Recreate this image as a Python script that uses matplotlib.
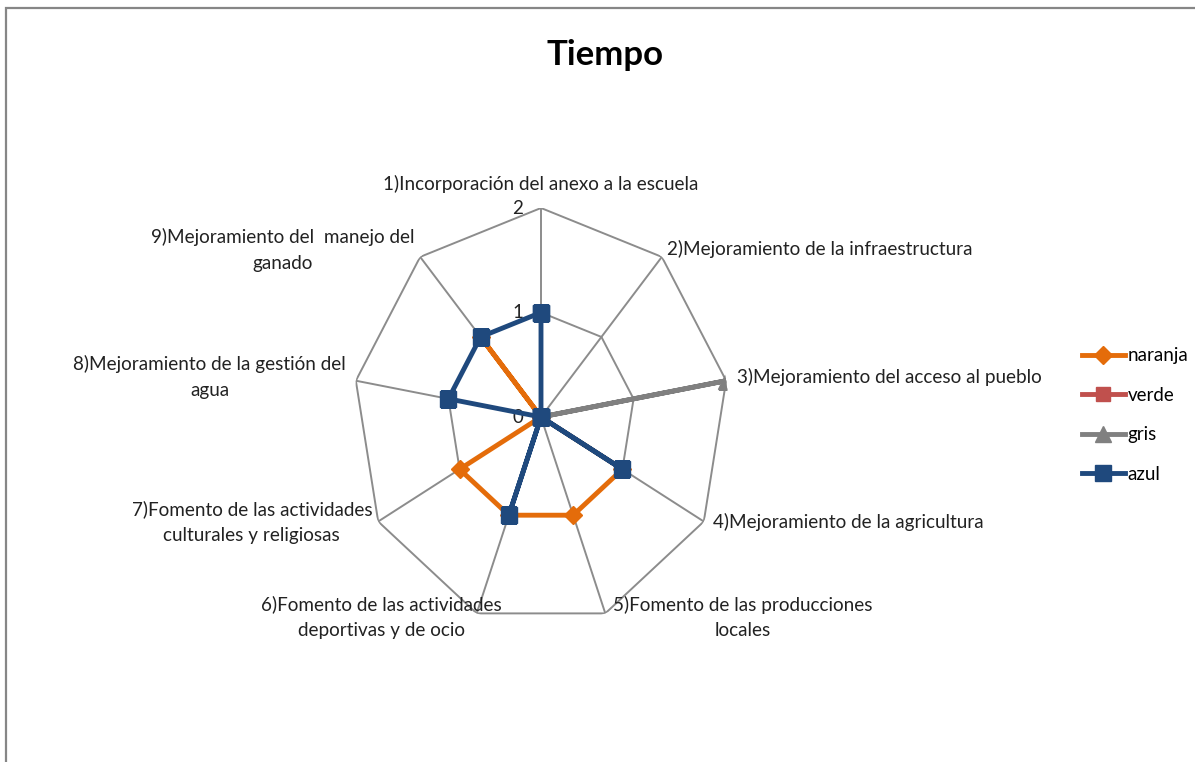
import numpy as np
import matplotlib
matplotlib.use("Agg")
import matplotlib.pyplot as plt
from matplotlib.patches import Rectangle

plt.rcParams['font.family'] = ['Lato', 'DejaVu Sans']

categories = ['1)Incorporación del anexo a la escuela',
              '2)Mejoramiento de la infraestructura',
              '3)Mejoramiento del acceso al pueblo',
              '4)Mejoramiento de la agricultura',
              '5)Fomento de las producciones\nlocales',
              '6)Fomento de las actividades\ndeportivas y de ocio',
              '7)Fomento de las actividades\nculturales y religiosas',
              '8)Mejoramiento de la gestión del\nagua',
              '9)Mejoramiento del  manejo del\nganado']

naranja = [0, 0, 0, 1, 1, 1, 1, 0, 1]
verde = [0, 0, 0, 0, 0, 0, 0, 0, 0]
gris = [0, 0, 2, 0, 0, 0, 0, 0, 0]
azul = [1, 0, 0, 1, 0, 1, 0, 1, 1]
r_ticks = [0, 1, 2]

n = len(categories)
angles = np.linspace(0, 2 * np.pi, n, endpoint=False)
ang_c = np.append(angles, angles[0])

fig = plt.figure(figsize=(11.95, 7.62), dpi=100)
W, H = 1195, 762

# plot area (Excel radar is slightly squashed horizontally)
cx, cy, rx, ry = 541, 417, 188, 209
ax = fig.add_axes([(cx - rx) / W, (H - cy - ry) / H, 2 * rx / W, 2 * ry / H],
                  projection='polar')
ax.set_aspect('auto')
ax.set_theta_offset(np.pi / 2)
ax.set_theta_direction(-1)
ax.set_ylim(0, 2)
ax.grid(False)
ax.spines['polar'].set_visible(False)
ax.set_xticks([])
ax.set_yticks([])
ax.patch.set_alpha(0)

grid_color = '#8c8c8c'
for r in r_ticks[1:]:
    ax.plot(ang_c, [r] * (n + 1), color=grid_color, lw=1.4, zorder=1)
for a in angles:
    ax.plot([a, a], [0, r_ticks[-1]], color=grid_color, lw=1.4, zorder=1)

for r in r_ticks:
    ax.annotate(str(r), (0, r), xytext=(-18, 0), textcoords='offset pixels',
                ha='right', va='center', fontsize=13.5, color='#222222')

series = [('naranja', naranja, '#E46C0A', 'D', 9),
          ('verde', verde, '#C0504D', 's', 10),
          ('gris', gris, '#808080', '^', 11),
          ('azul', azul, '#1F497D', 's', 11.5)]
for name, vals, col, mk, ms in series:
    v = vals + vals[:1]
    ax.plot(ang_c, v, color=col, lw=3.5, marker=mk, markersize=ms,
            label=name, zorder=3)

# category labels: (offset px, ha)
label_pos = [((0, 24), 'center'), ((5, 8), 'left'), ((11, 4), 'left'),
             ((9, 0), 'left'), ((137, -4), 'center'), ((25, -4), 'right'),
             ((-6, -1), 'right'), ((-10, 4), 'right'), ((-6, 7), 'right')]
for a, lab, (off, ha) in zip(angles, categories, label_pos):
    ax.annotate(lab, (a, 2), xytext=off, textcoords='offset pixels',
                ha=ha, va='center', multialignment='center',
                fontsize=13.6, linespacing=1.62, color='#222222',
                annotation_clip=False)

fig.text(605 / W, 1 - 55 / H, 'Tiempo', ha='center', va='center',
         fontsize=25, fontweight='bold')

leg = ax.legend(loc='center left', bbox_to_anchor=(1074 / W, 1 - 415 / H),
                bbox_transform=fig.transFigure, frameon=False, fontsize=13.5,
                handlelength=2.3, handletextpad=0.15, labelspacing=1.2,
                borderaxespad=0)

fig.patches.append(Rectangle((6 / W, -0.05), 1.1, 1 - 8 / H + 0.05,
                             transform=fig.transFigure, fill=False,
                             edgecolor='#868686', lw=1.6))

fig.savefig('out.png', dpi=100)
